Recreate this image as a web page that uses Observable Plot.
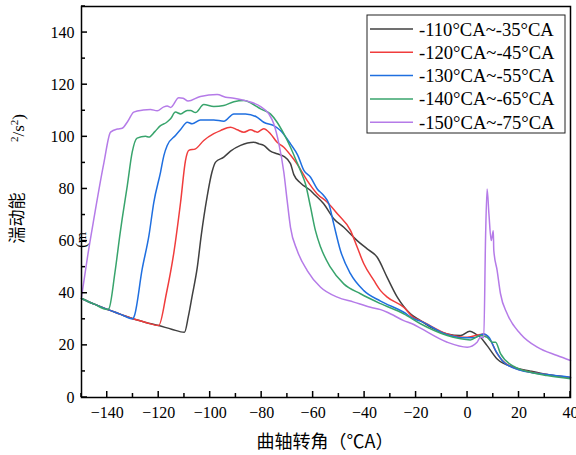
<!DOCTYPE html>
<html>
<head>
<meta charset="utf-8">
<script src="https://cdn.jsdelivr.net/npm/d3@7"></script>
<script src="https://cdn.jsdelivr.net/npm/@observablehq/plot@0.6"></script>
<style>
  html, body { margin: 0; padding: 0; background: #fff; }
  #chart svg { display: block; }
  #chart svg text, #chart svg g text { font-family: "Liberation Serif", "Times New Roman", "DejaVu Serif", serif !important; }
  #chart svg text.cjk { font-family: "Noto Sans CJK SC", "Noto Sans", sans-serif !important; }
</style>
</head>
<body>
<div id="chart"></div>
<script>
// ---- data ----
const seriesNames = ["-110°CA~-35°CA", "-120°CA~-45°CA", "-130°CA~-55°CA", "-140°CA~-65°CA", "-150°CA~-75°CA"];
const seriesColors = ["#404040", "#f03c3c", "#1f6fe0", "#38a46c", "#b57be8"];

const baseCurve = [[-150,38],[-145,35.8],[-140,33.8],[-135,32],[-130,30.2],[-125,28.8],[-120,27.6],[-115,26.2],[-110,25]];

const black = [[-108.5,31],[-107,39],[-105,50],[-103.5,62],[-101.2,77],[-99.3,86.5],[-97.9,90.3],[-94.7,92.2],[-92.1,94.5],[-88.2,96.7],[-85.5,97.6],[-83,97.9],[-81,97.3],[-79.2,96.7],[-76.6,94.5],[-74,93.5],[-71.4,92.5],[-68.8,89.7],[-67.5,85.5],[-64.9,82.3],[-61,79.4],[-59.7,78.1],[-55.9,74.3],[-52,68.6],[-48.1,65.3],[-42.9,60.2],[-39,57],[-35.1,53.8],[-31.2,46],[-27.3,38.5],[-22.2,32.1],[-18.3,29.5],[-14.4,27],[-7.9,24.4],[-2.7,23.8],[0.9,25.4],[3.1,24.4],[5,23.1],[7.6,19.9],[11.5,14.8],[18,11.6],[24.5,10.1],[30.9,8.8],[40,7.6]];

const red = [[-117,40],[-114.1,55.7],[-111.5,74.9],[-109.6,90.9],[-108.3,94.8],[-105.7,95.4],[-102.5,98.6],[-98.6,101.2],[-96,102.4],[-92.1,103.7],[-89.5,102.7],[-86.9,101.8],[-84.3,102.7],[-81.7,101.8],[-79.2,103.1],[-76.6,101.2],[-74,97.9],[-71.4,96],[-68.8,93],[-66.2,89.5],[-62.3,83.2],[-58.4,78.1],[-54.5,74.9],[-50.6,70.5],[-45.5,64.1],[-42.9,57.7],[-40.3,51.3],[-36.4,44.9],[-33.8,41],[-31.2,38.5],[-24.8,34.6],[-20.9,30.6],[-18.3,29.5],[-7.9,24.4],[-0.1,23.1],[6.3,24.4],[8.9,21.9],[11.5,16.8],[18,11.4],[30.9,8.8],[40,7.6]];

const blue = [[-129.4,31.5],[-126.4,49.4],[-123.8,62.1],[-121.9,74.9],[-119.3,86.4],[-118,92.8],[-116.7,96.7],[-113.5,100.5],[-111.5,102.8],[-108.9,105.6],[-107,105],[-103.8,106.5],[-98.6,106.5],[-94.7,106],[-90.8,108.8],[-86.3,108.8],[-81.7,107.5],[-79.2,105.6],[-75.3,104.3],[-72.7,102.4],[-68.8,97.3],[-66,93],[-63.6,87.1],[-61,84.5],[-58.4,80],[-55.9,77.5],[-53.9,74.3],[-52,66.6],[-49.4,56.4],[-45.5,47.5],[-40.3,41],[-33.8,37],[-24.8,32.7],[-20.9,30.2],[-18.3,29.3],[-7.9,24.1],[-1.5,22.9],[2.4,22.9],[6.3,24.4],[8.3,23.1],[10.9,18],[14.1,13.5],[20.6,10.4],[30.9,8.8],[40,7.8]];

const green = [[-139.4,34],[-137,48],[-135,63],[-134.2,68.5],[-132.2,81.3],[-130.3,94.1],[-128.4,99.5],[-125.1,100.2],[-123.8,99.9],[-121.5,102],[-119.3,104.3],[-117,105.5],[-115.4,106.9],[-113.5,109.5],[-111.5,108.8],[-108.9,110.1],[-107.6,110.1],[-105.7,109.3],[-102.5,112.4],[-98.6,111.6],[-94.7,112],[-90.8,113.5],[-86.9,113.9],[-83.7,112.7],[-80.4,110.7],[-76.6,108.8],[-74,105.6],[-71.4,101.2],[-68.8,96],[-66.2,90],[-64.5,86],[-63,82],[-61,73],[-59.1,64],[-57.1,57.7],[-53.3,50],[-48.1,43.6],[-41.6,39.8],[-33.8,36],[-24.8,32.1],[-18.3,28.3],[-7.9,23.8],[-2.7,22.5],[1.1,22.1],[5,23.8],[7.6,23.1],[9.6,21.2],[10.9,21.2],[12.8,16.8],[18,11.9],[24.5,9.7],[30.9,8.4],[40,7.2]];

const purple = [[-150,38.5],[-147.5,55],[-145.2,68.5],[-141.3,90],[-138.7,101.8],[-136,103],[-134.2,103.3],[-132,106],[-129.7,109.5],[-126,110.3],[-123.2,110.5],[-120.6,110],[-118,111.5],[-116.7,111.8],[-115.4,111.3],[-112.2,115],[-110.5,114.8],[-108.6,113.7],[-103.8,115.5],[-97.3,116.2],[-94,115.2],[-90.8,114.8],[-85.6,113.7],[-80.4,111.6],[-77.2,108.8],[-75.3,105],[-73.3,97.3],[-71.4,86.5],[-70.1,75.6],[-68.8,65.3],[-66.2,56.4],[-62.3,48.7],[-57.1,42.3],[-50.6,38.5],[-44.2,36.6],[-37.7,34.6],[-33.8,33.7],[-31.2,32.7],[-24.8,29.5],[-20.9,28],[-18.3,26.6],[-7.9,21.2],[-0.1,19.3],[3.7,21.2],[5,23.1],[6.3,23],[7,61.5],[7.6,80],[8.3,70.5],[9.2,60.2],[10,64],[10.2,56.4],[11.5,48.7],[12.8,39.8],[15.4,32.1],[20.6,24.4],[27.1,19.3],[34.8,16.1],[40,14.2]];

const xMajorTicks = [-140,-120,-100,-80,-60,-40,-20,0,20,40];
const xMinorTicks = [-150,-130,-110,-90,-70,-50,-30,-10,10,30];
const yMajorTicks = [0,20,40,60,80,100,120,140];
const yMinorTicks = [10,30,50,70,90,110,130,150];

const xTitle = "曲轴转角（℃A）";
const yTitleMain = "湍动能";
const yTitleStray = "(m";

// starting x of each series on the shared base curve
const seriesStarts = [-110, -120, -130, -140, -150];
const seriesBodies = [black, red, blue, green, purple];

const rows = [];
seriesBodies.forEach((body, i) => {
  const pre = baseCurve.filter(d => d[0] <= seriesStarts[i] && seriesStarts[i] > -150);
  [...pre, ...body].forEach(([x, y]) => rows.push({series: seriesNames[i], x, y}));
});

const serif = "Liberation Serif, Times New Roman, DejaVu Serif, serif";

const chart = Plot.plot({
  width: 576,
  height: 455,
  marginLeft: 81,
  marginRight: 6,
  marginTop: 6,
  marginBottom: 58,
  style: {fontSize: "16px", fontFamily: serif, background: "#fff", color: "#000"},
  x: {domain: [-150, 40]},
  y: {domain: [0, 150]},
  color: {domain: seriesNames, range: seriesColors},
  marks: [
    Plot.line(rows, {x: "x", y: "y", z: "series", stroke: "series", strokeWidth: 1.5, curve: "monotone-x"}),
    Plot.frame({stroke: "#000", strokeWidth: 1.5}),
    Plot.axisX(xMajorTicks, {tickSize: 0, tickPadding: 9, label: null, fontSize: 16, fontFamily: serif, fontVariant: "normal"}),
    Plot.axisY(yMajorTicks, {tickSize: 0, tickPadding: 7, label: null, fontSize: 16, fontFamily: serif, fontVariant: "normal"})
  ]
});

document.getElementById("chart").appendChild(chart);

const svg = d3.select(chart);
const sx = chart.scale("x"), sy = chart.scale("y");
const [yBottom] = sy.range;           // pixel of y = 0
const [xLeft] = sx.range;             // pixel of x = -150

// ---- inward ticks ----
const tg = svg.append("g").attr("stroke", "#000").attr("stroke-width", 1.5);
const addXTicks = (vals, len) => vals.forEach(v => {
  const px = sx.apply(v);
  tg.append("line").attr("x1", px).attr("x2", px).attr("y1", yBottom).attr("y2", yBottom - len);
});
const addYTicks = (vals, len) => vals.forEach(v => {
  const py = sy.apply(v);
  tg.append("line").attr("x1", xLeft).attr("x2", xLeft + len).attr("y1", py).attr("y2", py);
});
addXTicks(xMajorTicks, 6); addXTicks(xMinorTicks, 4);
addYTicks(yMajorTicks, 6); addYTicks(yMinorTicks, 4);

// ---- titles ----
svg.append("text").attr("class", "cjk")
  .attr("x", 325).attr("y", 448)
  .attr("text-anchor", "middle")
  .style("font-size", "18px").style("fill", "#000")
  .text(xTitle);

svg.append("text").attr("class", "cjk")
  .attr("transform", "translate(23,218) rotate(-90)")
  .attr("text-anchor", "middle")
  .style("font-size", "17px").style("fill", "#000")
  .text(yTitleMain);

const unit = svg.append("text")
  .attr("transform", "translate(24,128) rotate(-90)")
  .attr("text-anchor", "middle")
  .style("font-size", "17px").style("fill", "#000");
unit.append("tspan").attr("baseline-shift", "super").style("font-size", "11px").text("2");
unit.append("tspan").text("/s");
unit.append("tspan").attr("baseline-shift", "super").style("font-size", "11px").text("2");
unit.append("tspan").text(")");

svg.append("text")
  .attr("transform", "translate(86,240) rotate(-90)")
  .attr("text-anchor", "middle")
  .style("font-size", "14px").style("fill", "#000")
  .text(yTitleStray);

// ---- legend ----
const lg = svg.append("g");
lg.append("rect")
  .attr("x", 367).attr("y", 15).attr("width", 198).attr("height", 118)
  .attr("fill", "#fff").attr("stroke", "#222").attr("stroke-width", 1);
seriesNames.forEach((name, i) => {
  const yy = 29 + i * 23.3;
  lg.append("line").attr("x1", 370).attr("x2", 413).attr("y1", yy).attr("y2", yy)
    .attr("stroke", seriesColors[i]).attr("stroke-width", 1.5);
  lg.append("text").attr("x", 419).attr("y", yy).attr("dy", "0.35em")
    .attr("text-anchor", "start")
    .style("font-size", "18.6px").style("fill", "#000")
    .text(name);
});
</script>
</body>
</html>
